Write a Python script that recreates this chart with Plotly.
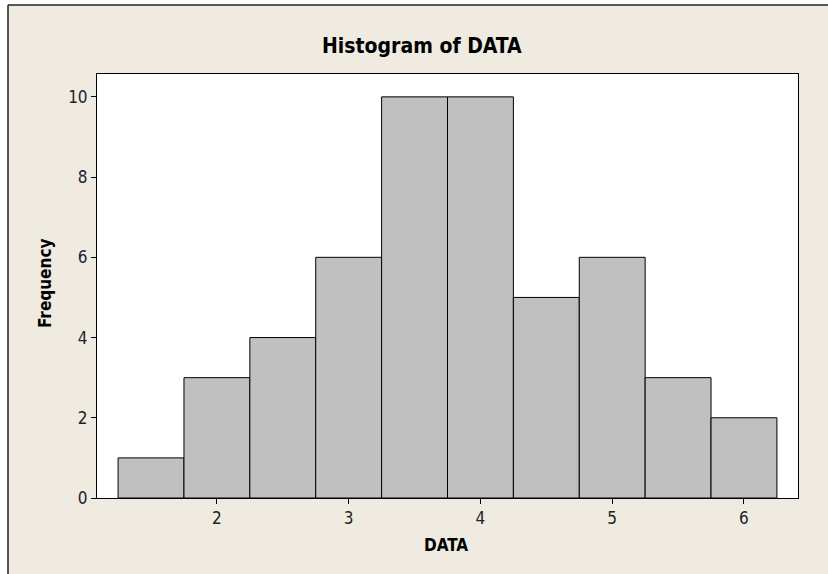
import plotly.graph_objects as go

bin_centers = [1.5, 2.0, 2.5, 3.0, 3.5, 4.0, 4.5, 5.0, 5.5, 6.0]
counts = [1, 3, 4, 6, 10, 10, 5, 6, 3, 2]
x_ticks = [2, 3, 4, 5, 6]
y_ticks = [0, 2, 4, 6, 8, 10]

FONT = "DejaVu Sans Condensed, Liberation Sans Narrow, Arial Narrow, sans-serif"
BG = "#EFEBE1"

W, H = 828, 574
L, R, T, B = 97, 30, 74, 76
pw, ph = W - L - R, H - T - B

def px_x(p):
    return (p - L) / pw

def px_y(p):
    return (H - B - p) / ph

fig = go.Figure()
fig.add_trace(go.Bar(
    x=bin_centers, y=counts, width=0.5,
    marker=dict(color="#C0C0C0", line=dict(color="black", width=1)),
    hoverinfo="x+y",
))

fig.update_layout(
    width=W, height=H,
    margin=dict(l=L, r=R, t=T, b=B, pad=0),
    paper_bgcolor=BG, plot_bgcolor="white",
    showlegend=False,
    font=dict(family=FONT, size=14, color="#222222"),
    xaxis=dict(range=[1.09, 6.41], tickvals=x_ticks, ticks="outside", ticklen=5,
               tickcolor="black", showline=True, linecolor="black", linewidth=1,
               mirror=True, showgrid=False, zeroline=False,
               tickfont=dict(family=FONT, size=17, color="#222222")),
    yaxis=dict(range=[0, 10.57], tickvals=y_ticks, ticks="outside", ticklen=5,
               tickcolor="black", showline=True, linecolor="black", linewidth=1,
               mirror=True, showgrid=False, zeroline=False,
               tickfont=dict(family=FONT, size=17, color="#222222")),
    annotations=[
        dict(text="<b>Histogram of DATA</b>", xref="paper", yref="paper",
             x=px_x(422), y=px_y(46), xanchor="center", yanchor="middle", showarrow=False,
             font=dict(family=FONT, size=21, color="black")),
        dict(text="<b>DATA</b>", xref="paper", yref="paper",
             x=px_x(446), y=px_y(545), xanchor="center", yanchor="middle", showarrow=False,
             font=dict(family=FONT, size=17, color="black")),
        dict(text="<b>Frequency</b>", xref="paper", yref="paper", textangle=-90,
             x=px_x(45), y=px_y(283), xanchor="center", yanchor="middle", showarrow=False,
             font=dict(family=FONT, size=17, color="black")),
    ],
    shapes=[
        dict(type="rect", xref="paper", yref="paper", x0=px_x(-2), x1=px_x(W + 2),
             y0=px_y(-2), y1=px_y(5), fillcolor="white", line=dict(width=0)),
        dict(type="rect", xref="paper", yref="paper", x0=px_x(-2), x1=px_x(8),
             y0=px_y(H + 2), y1=px_y(-2), fillcolor="white", line=dict(width=0)),
        dict(type="line", xref="paper", yref="paper", x0=px_x(8), x1=px_x(W + 2),
             y0=px_y(5), y1=px_y(5), line=dict(color="#222222", width=1.5)),
        dict(type="line", xref="paper", yref="paper", x0=px_x(8), x1=px_x(8),
             y0=px_y(5), y1=px_y(H + 2), line=dict(color="#222222", width=1.5)),
    ],
)

fig.write_html(
    "out.html",
    config={"displayModeBar": False},
    post_script="document.body.style.margin='0';document.body.style.overflow='hidden';",
)
